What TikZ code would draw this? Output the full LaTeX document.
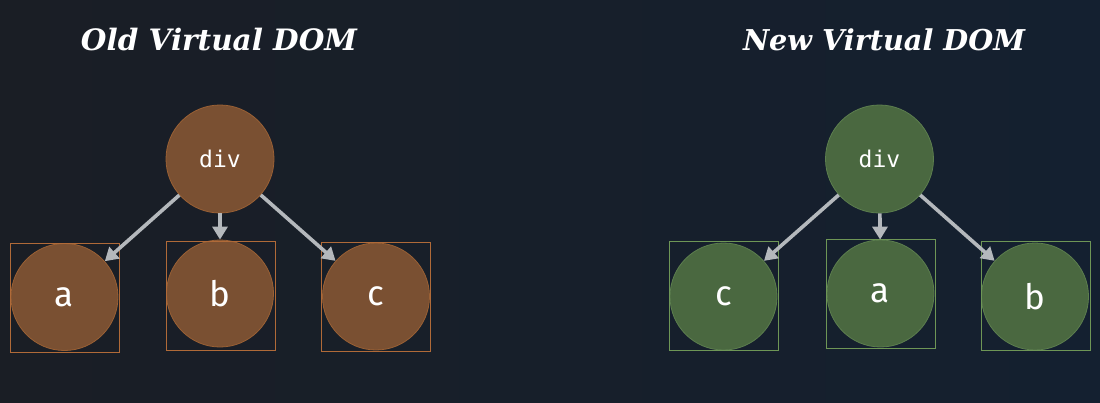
\documentclass[tikz,border=0pt]{standalone}
\usepackage{fontspec}
\usepackage{graphicx}
\newfontfamily\lblfont{Fira Sans}
\newfontfamily\codefont{DejaVu Sans Mono}
\newfontfamily\titlefont{DejaVu Serif}
\usetikzlibrary{arrows.meta}
\definecolor{bgL}{HTML}{1A1E25}
\definecolor{bgR}{HTML}{142030}
\definecolor{brownfill}{HTML}{7A5032}
\definecolor{brownline}{HTML}{9A6034}
\definecolor{brownbox}{HTML}{B06A38}
\definecolor{greenfill}{HTML}{4A6840}
\definecolor{greenline}{HTML}{5C7E4E}
\definecolor{greenbox}{HTML}{6E9656}
\definecolor{arrowgray}{HTML}{B4B8BC}
\begin{document}
\begin{tikzpicture}[x=1pt,y=-1pt,
  titletext/.style={text=white,inner sep=0pt,font=\titlefont\bfseries\itshape},
  rootnode/.style={circle,minimum size=108pt,inner sep=0pt,line width=0.8pt,text=white,font=\codefont\fontsize{23}{26}\selectfont},
  leafnode/.style={circle,minimum size=107pt,inner sep=0pt,line width=0.8pt,text=white,font=\lblfont\fontsize{35}{40}\selectfont},
  boxnode/.style={rectangle,minimum size=109pt,inner sep=0pt,outer sep=0pt,line width=1.4pt},
  oldroot/.style={rootnode,fill=brownfill,draw=brownline},
  oldleaf/.style={leafnode,fill=brownfill,draw=brownline},
  oldbox/.style={boxnode,draw=brownbox},
  newroot/.style={rootnode,fill=greenfill,draw=greenline},
  newleaf/.style={leafnode,fill=greenfill,draw=greenline},
  newbox/.style={boxnode,draw=greenbox},
  treearrow/.style={draw=arrowgray,line width=3.6pt,-{Triangle[length=13pt,width=15pt]}}
]
\shade[left color=bgL,right color=bgR] (0,0) rectangle (1100,402);
\useasboundingbox (0,0) rectangle (1100,402);

% titles
\node[titletext] (t1) at (219,40) {\resizebox{276pt}{!}{Old Virtual DOM}};
\node[titletext] (t2) at (884,40) {\resizebox{282pt}{!}{New Virtual DOM}};

% old tree
\node[oldroot] (odiv) at (220,159) {div};
\node[oldleaf] (oa) at (64.5,297) {a};
\node[oldleaf] (ob) at (220,293.5) {b};
\node[oldleaf] (oc) at (376,296.5) {c};
\node[oldbox] (oabox) at (65,298) {};
\node[oldbox] (obbox) at (221,296) {};
\node[oldbox] (ocbox) at (376,297) {};
\draw[treearrow] (odiv) -- (oa);
\draw[treearrow] (odiv) -- (ob);
\draw[treearrow] (odiv) -- (oc);

% new tree
\node[newroot] (ndiv) at (879.5,159) {div};
\node[newleaf] (nc) at (723.5,296.5) {c};
\node[newleaf] (na) at (880.5,293.5) {a};
\node[newleaf] (nb) at (1035,296.5) {b};
\node[newbox] (ncbox) at (724,296) {};
\node[newbox] (nabox) at (881,294) {};
\node[newbox] (nbbox) at (1036,296) {};
\draw[treearrow] (ndiv) -- (nc);
\draw[treearrow] (ndiv) -- (na);
\draw[treearrow] (ndiv) -- (nb);
\end{tikzpicture}
\end{document}
